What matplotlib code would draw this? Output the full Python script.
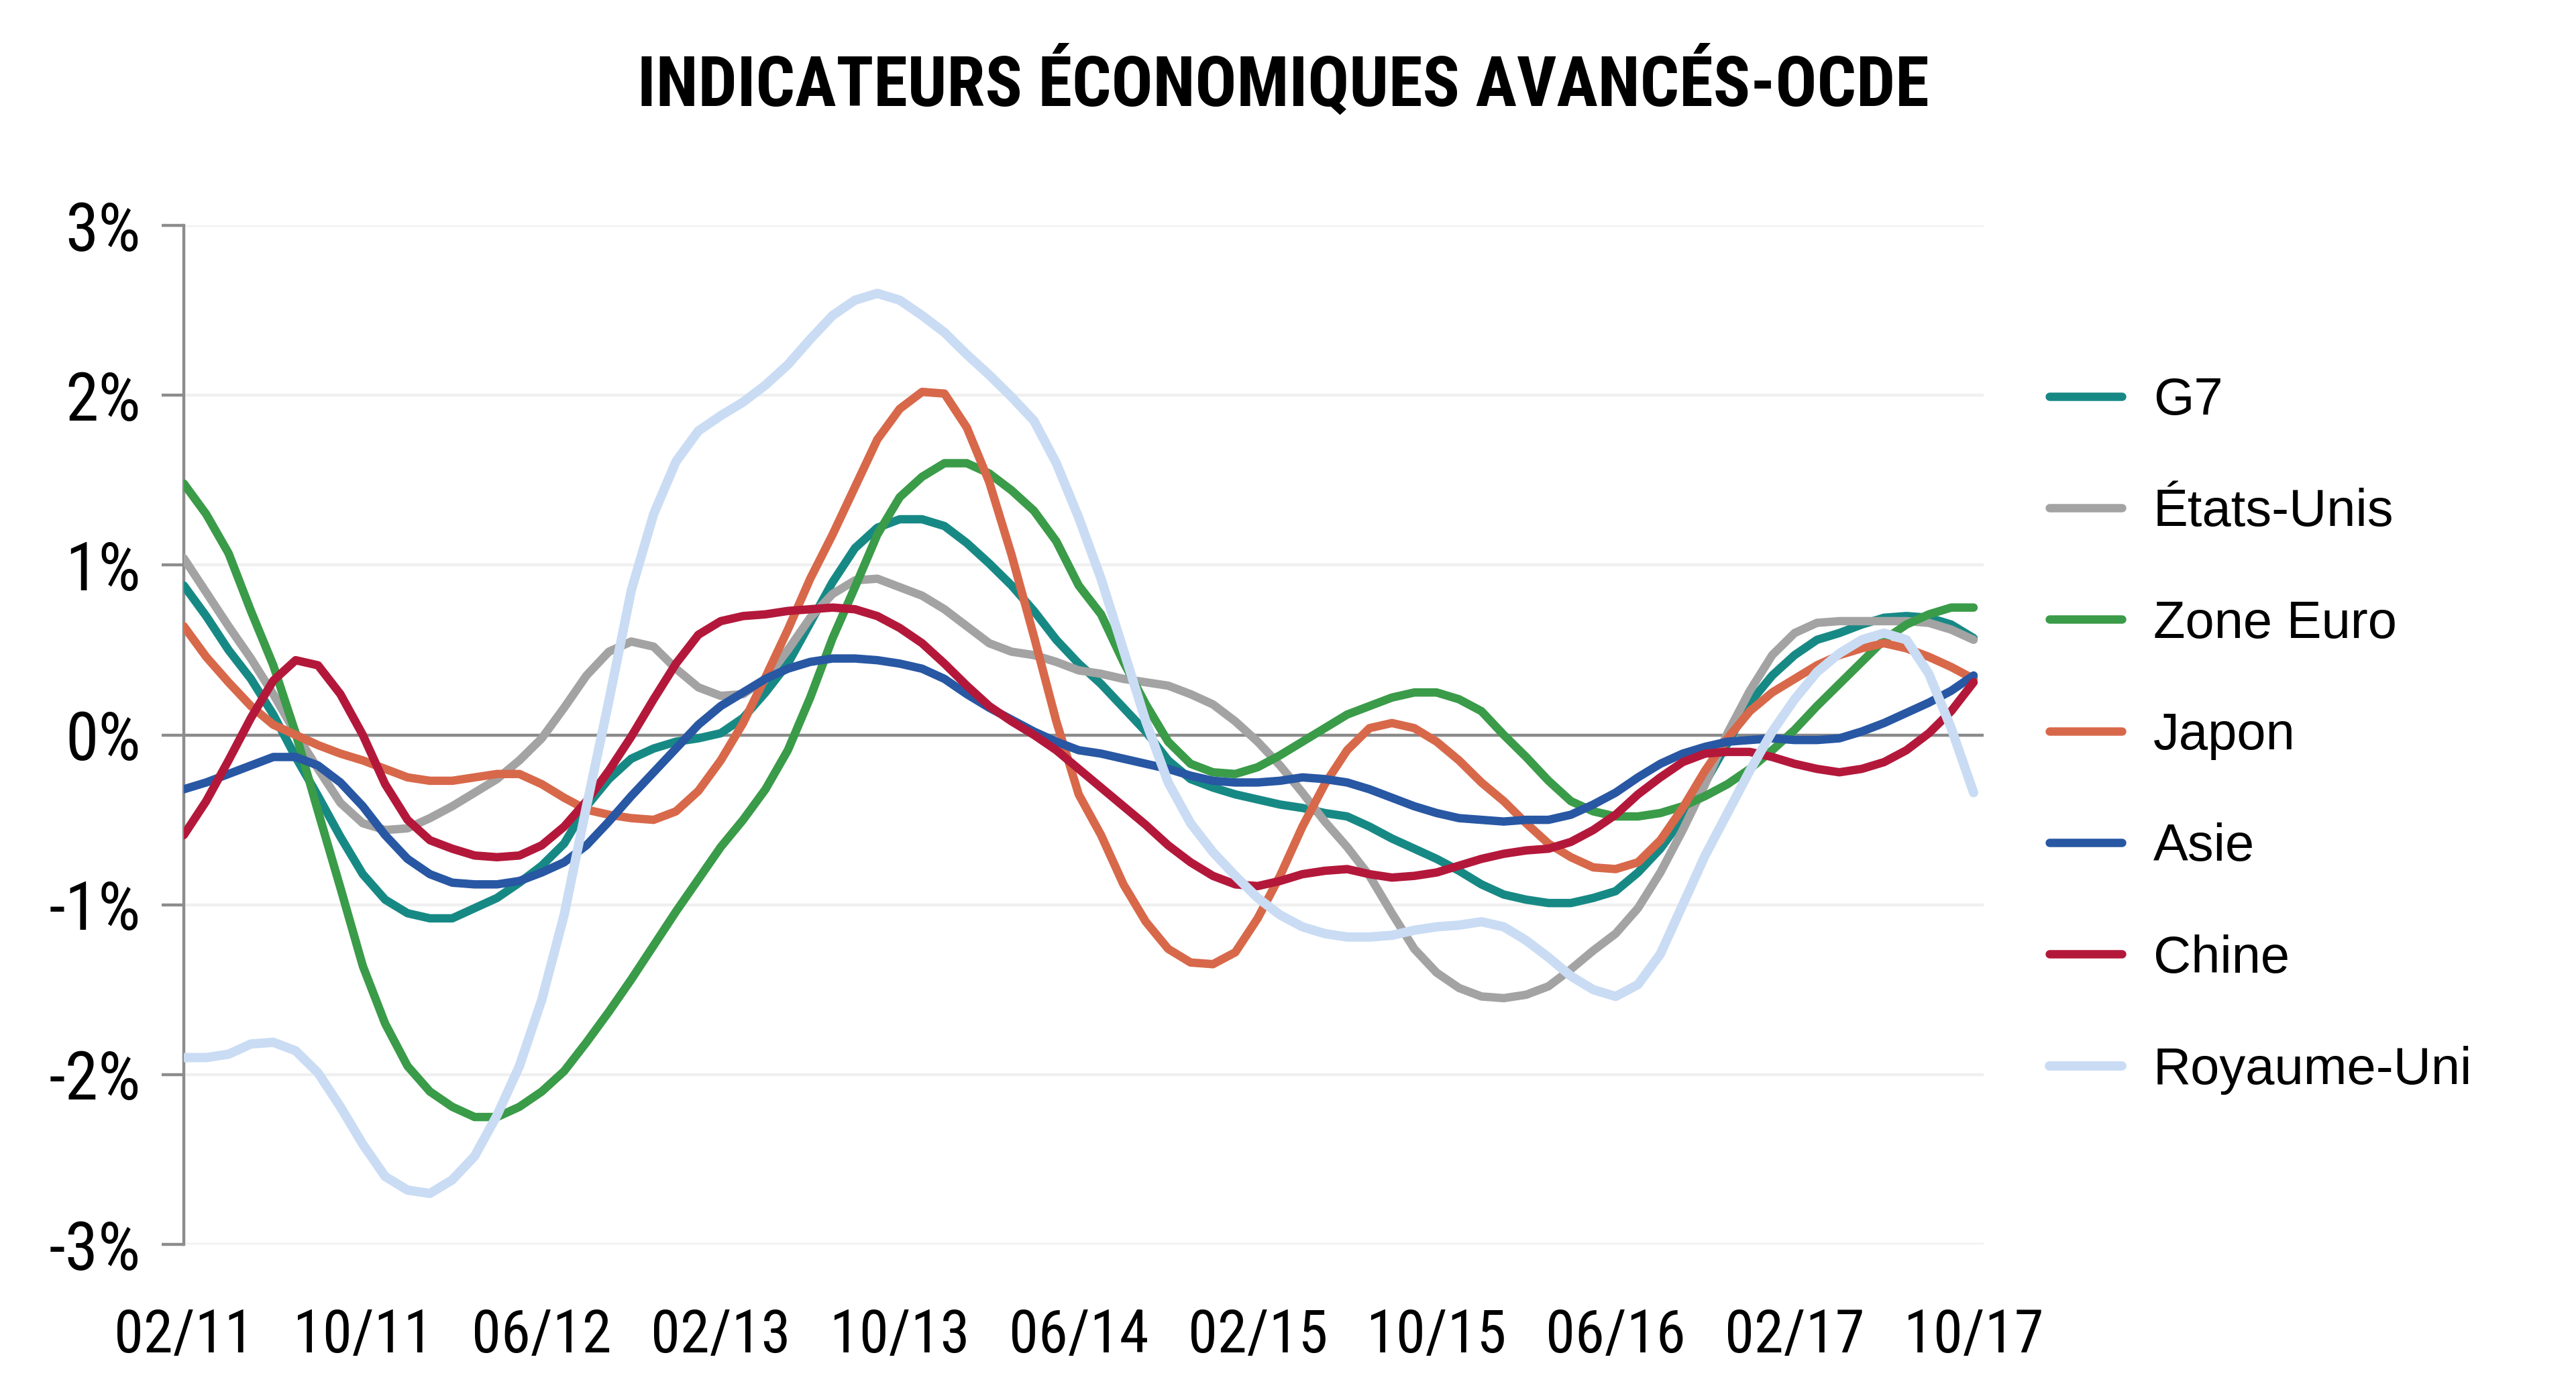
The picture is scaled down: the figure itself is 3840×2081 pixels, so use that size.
import matplotlib
matplotlib.use("Agg")
from matplotlib import pyplot as plt
from matplotlib import font_manager as fm
import numpy as np
import pandas as pd

plt.rcParams['axes.unicode_minus'] = False

# mois : 02/2011 -> 10/2017
mois = pd.date_range('2011-02-01', periods=81, freq='MS')

g7 = [0.88, 0.70, 0.50, 0.33, 0.12, -0.13, -0.36, -0.60, -0.82, -0.97, -1.05, -1.08, -1.08, -1.02, -0.96, -0.87, -0.77, -0.64, -0.42, -0.26, -0.14,
      -0.08, -0.04, -0.02, 0.01, 0.10, 0.25, 0.42, 0.66, 0.90, 1.10, 1.22, 1.27, 1.27, 1.23, 1.13, 1.01, 0.88, 0.73, 0.56, 0.42,
      0.30, 0.16, 0.02, -0.15, -0.26, -0.31, -0.35, -0.38, -0.41, -0.43, -0.46, -0.48, -0.54, -0.61, -0.67, -0.73, -0.80, -0.88, -0.94, -0.97,
      -0.99, -0.99, -0.96, -0.92, -0.81, -0.67, -0.49, -0.28, -0.05, 0.19, 0.35, 0.47, 0.56, 0.60, 0.65, 0.69, 0.70, 0.69, 0.65, 0.57]

etats_unis = [1.04, 0.84, 0.64, 0.45, 0.24, 0.01, -0.20, -0.40, -0.52, -0.56, -0.55, -0.49, -0.42, -0.34, -0.26, -0.15, -0.02, 0.16, 0.35, 0.49, 0.55,
              0.52, 0.39, 0.28, 0.23, 0.24, 0.33, 0.50, 0.69, 0.83, 0.91, 0.92, 0.87, 0.82, 0.74, 0.64, 0.54, 0.49, 0.47, 0.43, 0.38,
              0.36, 0.33, 0.31, 0.29, 0.24, 0.18, 0.08, -0.04, -0.18, -0.34, -0.51, -0.66, -0.83, -1.05, -1.26, -1.40, -1.49, -1.54, -1.55, -1.53,
              -1.48, -1.38, -1.27, -1.17, -1.02, -0.81, -0.56, -0.29, 0.01, 0.26, 0.47, 0.60, 0.66, 0.67, 0.67, 0.67, 0.67, 0.66, 0.62, 0.56]

zone_euro = [1.48, 1.30, 1.07, 0.73, 0.41, 0.01, -0.45, -0.90, -1.36, -1.70, -1.95, -2.10, -2.19, -2.25, -2.25, -2.19, -2.10, -1.98, -1.81, -1.63, -1.44,
             -1.24, -1.04, -0.85, -0.66, -0.50, -0.32, -0.09, 0.22, 0.57, 0.87, 1.18, 1.40, 1.52, 1.60, 1.60, 1.54, 1.44, 1.32, 1.14, 0.88,
             0.71, 0.43, 0.18, -0.04, -0.17, -0.22, -0.23, -0.19, -0.12, -0.04, 0.04, 0.12, 0.17, 0.22, 0.25, 0.25, 0.21, 0.14, 0.00, -0.13,
             -0.27, -0.39, -0.45, -0.48, -0.48, -0.46, -0.42, -0.36, -0.29, -0.20, -0.09, 0.03, 0.17, 0.30, 0.43, 0.56, 0.65, 0.71, 0.75, 0.75]

japon = [0.64, 0.46, 0.31, 0.17, 0.06, 0.00, -0.06, -0.11, -0.15, -0.20, -0.25, -0.27, -0.27, -0.25, -0.23, -0.23, -0.29, -0.37, -0.44, -0.47, -0.49,
         -0.50, -0.45, -0.33, -0.15, 0.07, 0.34, 0.62, 0.92, 1.18, 1.46, 1.74, 1.92, 2.02, 2.01, 1.81, 1.49, 1.06, 0.58, 0.08, -0.35,
         -0.59, -0.88, -1.10, -1.26, -1.34, -1.35, -1.28, -1.08, -0.83, -0.54, -0.29, -0.09, 0.04, 0.07, 0.04, -0.04, -0.15, -0.28, -0.39, -0.52,
         -0.64, -0.72, -0.78, -0.79, -0.75, -0.62, -0.43, -0.21, -0.02, 0.14, 0.25, 0.33, 0.41, 0.47, 0.51, 0.54, 0.51, 0.46, 0.40, 0.33]

asie = [-0.32, -0.28, -0.23, -0.18, -0.13, -0.13, -0.18, -0.28, -0.42, -0.59, -0.73, -0.82, -0.87, -0.88, -0.88, -0.86, -0.81, -0.75, -0.65, -0.51, -0.36,
        -0.22, -0.08, 0.06, 0.17, 0.25, 0.33, 0.39, 0.43, 0.45, 0.45, 0.44, 0.42, 0.39, 0.33, 0.24, 0.16, 0.09, 0.02, -0.04, -0.09,
        -0.11, -0.14, -0.17, -0.20, -0.24, -0.27, -0.28, -0.28, -0.27, -0.25, -0.26, -0.28, -0.32, -0.37, -0.42, -0.46, -0.49, -0.50, -0.51, -0.50,
        -0.50, -0.47, -0.41, -0.34, -0.25, -0.17, -0.11, -0.07, -0.04, -0.03, -0.02, -0.03, -0.03, -0.02, 0.02, 0.07, 0.13, 0.19, 0.26, 0.35]

chine = [-0.59, -0.39, -0.15, 0.10, 0.32, 0.44, 0.41, 0.24, 0.00, -0.29, -0.50, -0.62, -0.67, -0.71, -0.72, -0.71, -0.65, -0.54, -0.39, -0.21, -0.01,
         0.21, 0.42, 0.59, 0.67, 0.70, 0.71, 0.73, 0.74, 0.75, 0.74, 0.70, 0.63, 0.54, 0.42, 0.29, 0.17, 0.08, 0.00, -0.09, -0.20,
         -0.31, -0.42, -0.53, -0.65, -0.75, -0.83, -0.88, -0.89, -0.86, -0.82, -0.80, -0.79, -0.82, -0.84, -0.83, -0.81, -0.77, -0.73, -0.70, -0.68,
         -0.67, -0.63, -0.56, -0.47, -0.35, -0.25, -0.16, -0.11, -0.10, -0.10, -0.13, -0.17, -0.20, -0.22, -0.20, -0.16, -0.09, 0.01, 0.14, 0.31]

royaume_uni = [-1.90, -1.90, -1.88, -1.82, -1.81, -1.86, -1.99, -2.19, -2.41, -2.60, -2.68, -2.70, -2.62, -2.48, -2.24, -1.95, -1.56, -1.06, -0.42, 0.20, 0.85,
               1.30, 1.61, 1.79, 1.88, 1.96, 2.06, 2.18, 2.33, 2.47, 2.56, 2.60, 2.56, 2.47, 2.37, 2.24, 2.12, 1.99, 1.85, 1.60, 1.28,
               0.92, 0.50, 0.08, -0.28, -0.52, -0.69, -0.83, -0.96, -1.06, -1.13, -1.17, -1.19, -1.19, -1.18, -1.15, -1.13, -1.12, -1.10, -1.13, -1.21,
               -1.31, -1.42, -1.50, -1.54, -1.47, -1.29, -1.00, -0.71, -0.46, -0.21, 0.02, 0.21, 0.37, 0.48, 0.56, 0.60, 0.56, 0.36, 0.04, -0.34]

series = ['G7', 'États-Unis', 'Zone Euro', 'Japon', 'Asie', 'Chine', 'Royaume-Uni']
valeurs = [g7, etats_unis, zone_euro, japon, asie, chine, royaume_uni]
couleurs = ['#178985', '#a3a3a3', '#3a9b48', '#d8684a', '#2857a3', '#b3183a', '#c9dcf4']


# cherche une police étroite installée (sinon Liberation Sans)
def police_etroite(gras):
    ordre = ['Liberation Sans Narrow', 'Roboto Condensed', 'Noto Sans', 'Open Sans', 'DejaVu Sans']
    trouve = []
    for f in fm.fontManager.ttflist:
        etroit = f.stretch in ('condensed', 'semi-condensed', 'extra-condensed', 'ultra-condensed') \
            or 'Narrow' in f.name or 'Condensed' in f.name
        if not etroit or f.style != 'normal':
            continue
        w = f.weight if isinstance(f.weight, int) else fm.weight_dict.get(f.weight, 400)
        if gras and w < 600:
            continue
        if not gras and not (350 <= w <= 500):
            continue
        rang = ordre.index(f.name) if f.name in ordre else len(ordre)
        trouve.append((rang, f.stretch != 'condensed', f.fname))
    if trouve:
        trouve.sort()
        return fm.FontProperties(fname=trouve[0][2])
    return fm.FontProperties(family=['Liberation Sans', 'DejaVu Sans'],
                             weight='bold' if gras else 'normal')


fp_axe = police_etroite(False)
fp_titre = police_etroite(True)

fig = plt.figure(figsize=(19.2, 10.405), dpi=200)
ax = fig.add_axes([0.07135, 0.1086, 0.6987, 0.7299])

x = np.arange(len(mois))
lignes = []
for nom, v, c in zip(series, valeurs, couleurs):
    lw = 5.0 if nom == 'Royaume-Uni' else 4.5
    l, = ax.plot(x, v, color=c, lw=lw, solid_joinstyle='round', solid_capstyle='round', label=nom, zorder=3)
    lignes.append(l)

ax.set_xlim(0, 80.45)
ax.set_ylim(-3, 3)

# grille et axe zéro
ax.set_yticks(range(-3, 4))
ax.set_yticklabels([f'{t}%' for t in range(-3, 4)])
ax.yaxis.grid(True, color='#f0f0f0', lw=1.6, zorder=0)
ax.set_axisbelow(True)
ax.axhline(0, color='#8a8a8a', lw=1.6, zorder=2)

pos = x[::8]
ax.set_xticks(pos)
ax.set_xticklabels([mois[i].strftime('%m/%y') for i in pos])

for lab in ax.get_yticklabels():
    lab.set_fontproperties(fp_axe)
    lab.set_fontsize(36)
for lab in ax.get_xticklabels():
    lab.set_fontproperties(fp_axe)
    lab.set_fontsize(32)

for s in ['top', 'right', 'bottom']:
    ax.spines[s].set_visible(False)
ax.spines['left'].set_color('#8c8c8c')
ax.spines['left'].set_linewidth(1.6)
ax.tick_params(axis='y', length=12, width=1.6, color='#8c8c8c', pad=11)
ax.tick_params(axis='x', length=0, pad=34)

titre = fig.text(0.498, 0.924, 'INDICATEURS ÉCONOMIQUES AVANCÉS-OCDE', ha='center', va='baseline')
titre.set_fontproperties(fp_titre)
titre.set_fontsize(37)

fig.legend(lignes, series, loc='upper left', bbox_to_anchor=(0.7956, 0.7304), frameon=False,
           borderpad=0, borderaxespad=0, handlelength=1.39, handletextpad=0.6, labelspacing=1.2,
           prop={'family': ['Liberation Sans', 'DejaVu Sans'], 'size': 28})

fig.savefig('out.png', dpi=200)
